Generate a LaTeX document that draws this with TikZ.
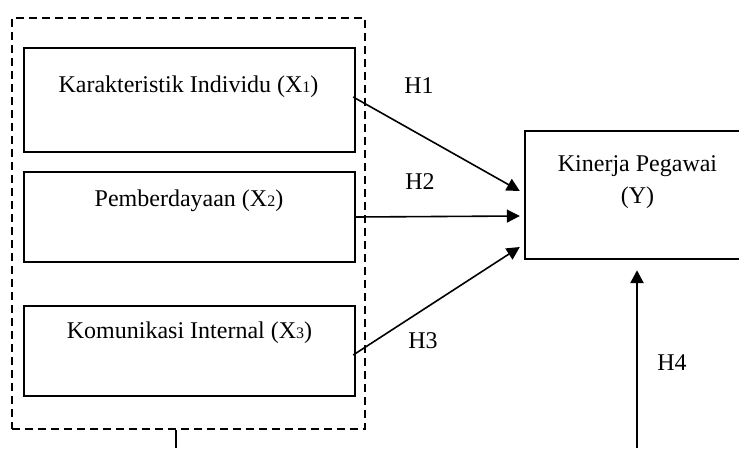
\documentclass[tikz,border=0pt]{standalone}
\usepackage{fontspec}
\setmainfont{Liberation Serif}
\usetikzlibrary{arrows.meta}
\newcommand{\idx}[1]{{\fontsize{16}{16}\selectfont #1}}
\begin{document}
\begin{tikzpicture}[x=1pt,y=-1pt,font=\fontsize{24}{32}\selectfont,
  box/.style={draw,line width=2.4pt,inner sep=0pt,minimum width=331pt},
  arr/.style={-{Triangle[length=13pt,width=13pt]},line width=1.6pt}]
\useasboundingbox (0,0) rectangle (739,448);
\node[draw,line width=2.4pt,dash pattern=on 8pt off 5pt,minimum width=353pt,minimum height=411pt] (grp) at (188.5,223.5) {};
\node[box,minimum height=104pt] (x1) at (189.5,100) {};
\node[box,minimum height=90pt] (x2) at (189.5,217) {};
\node[box,minimum height=90pt] (x3) at (189.5,351) {};
\node (x1t) at (188.5,87) {Karakteristik Individu (X\idx{1})};
\node (x2t) at (189,201) {Pemberdayaan (X\idx{2})};
\node (x3t) at (189.5,333) {Komunikasi Internal (X\idx{3})};
\node[box,minimum width=226pt,minimum height=128pt] (y) at (638,195) {};
\node[align=center] (yt) at (637.5,182) {Kinerja Pegawai\\(Y)};
\draw[arr] ([xshift=-3pt,yshift=3pt]x1.east) -- ([xshift=-4pt,yshift=4pt]y.west);
\draw[arr] (x2.east) -- ([xshift=-4pt,yshift=-21pt]y.west);
\draw[arr] ([xshift=-3pt,yshift=-4pt]x3.east) -- ([xshift=-4pt,yshift=-52pt]y.west);
\node (h1) at (419,86) {H1};
\node (h2) at (420,182) {H2};
\node (h3) at (423,341) {H3};
\node (h4) at (672,363) {H4};
\coordinate (grpfoot) at (176,448);
\coordinate (yfoot) at (637,448);
\draw[line width=2.6pt] (grp.south -| grpfoot) -- (grpfoot);
\draw[arr,line width=2.6pt] (yfoot) -- ([yshift=-10pt]y.south -| yfoot);
\end{tikzpicture}
\end{document}
